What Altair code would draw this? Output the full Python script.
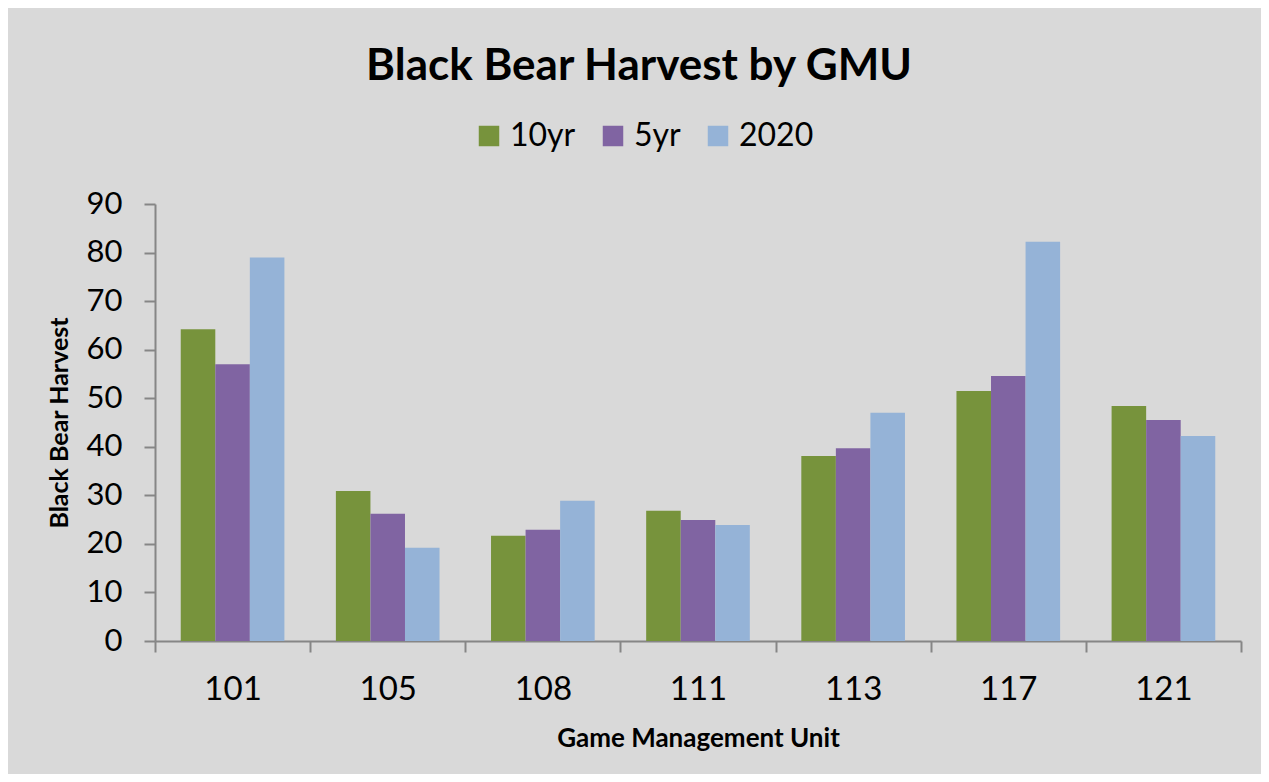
import altair as alt
import pandas as pd

gmu = ["101", "105", "108", "111", "113", "117", "121"]
series = ["10yr", "5yr", "2020"]
v10 = [64.2, 30.9, 21.7, 26.8, 38.1, 51.5, 48.4]
v5 = [57.0, 26.2, 22.9, 24.9, 39.7, 54.6, 45.5]
v2020 = [79.0, 19.2, 28.9, 23.9, 47.0, 82.2, 42.2]
colors = ["#77933c", "#8064a2", "#95b3d7"]

rows = []
for i, g in enumerate(gmu):
    for s, vals in zip(series, [v10, v5, v2020]):
        rows.append({"GMU": g, "Series": s, "Harvest": vals[i]})
df = pd.DataFrame(rows)

FONT = "Lato"

chart = alt.Chart(df).mark_bar().encode(
    x=alt.X("GMU:N", sort=gmu,
            scale=alt.Scale(paddingInner=0, paddingOuter=0),
            axis=alt.Axis(title="Game Management Unit", labelAngle=0, tickBand="extent",
                          labelFontSize=33, labelPadding=21, titleFontSize=26,
                          titleFontWeight="bold", titlePadding=19, tickSize=11,
                          domainColor="#868686", tickColor="#868686", domainWidth=2, tickWidth=2,
                          labelColor="#000000", titleColor="#000000", labelFont=FONT, titleFont=FONT)),
    xOffset=alt.XOffset("Series:N", sort=series, scale=alt.Scale(paddingInner=0, paddingOuter=0.745)),
    y=alt.Y("Harvest:Q", scale=alt.Scale(domain=[0, 90], nice=False),
            axis=alt.Axis(title="Black Bear Harvest", values=list(range(0, 91, 10)), grid=False,
                          labelFontSize=31, labelPadding=22, titleFontSize=25, titleFontWeight="bold",
                          titlePadding=14, tickSize=11,
                          domainColor="#868686", tickColor="#868686", domainWidth=2, tickWidth=2,
                          labelColor="#000000", titleColor="#000000", labelFont=FONT, titleFont=FONT)),
    color=alt.Color("Series:N", sort=series,
                    scale=alt.Scale(domain=series, range=colors),
                    legend=alt.Legend(title=None, orient="none", direction="horizontal",
                                      legendX=318, legendY=-84, symbolType="square",
                                      symbolSize=420, symbolStrokeWidth=0, labelFontSize=32,
                                      labelFont=FONT, labelColor="#000000", columnPadding=21,
                                      labelOffset=5)),
).properties(
    width=1086, height=437,
    title=alt.TitleParams("Black Bear Harvest by GMU", fontSize=44, font=FONT, fontWeight="bold",
                          color="#000000", anchor="middle", offset=31, dx=-59),
    autosize=alt.AutoSizeParams(type="none"),
    padding={"left": 147, "top": 196, "right": 20, "bottom": 133},
    background="#d9d9d9",
).configure_view(stroke=None)

chart.save("out.html", embed_options={"renderer": "svg", "actions": False})
